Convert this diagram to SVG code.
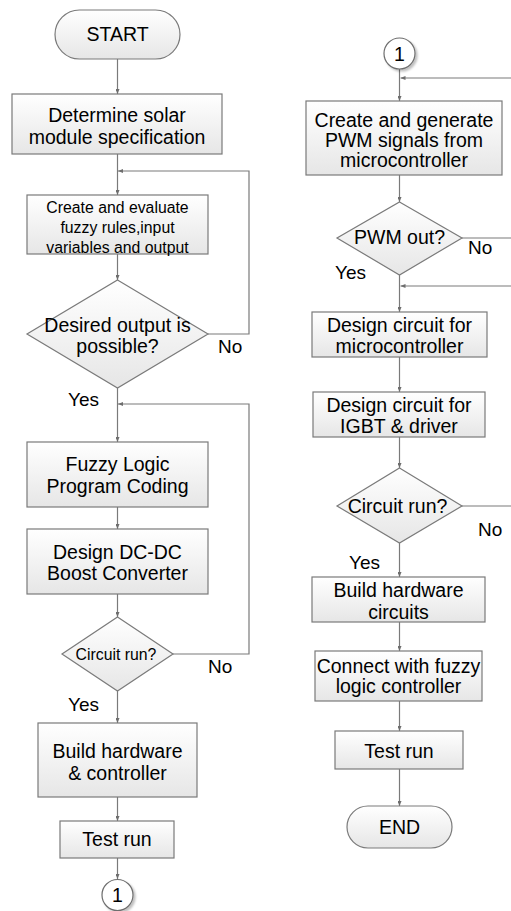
<svg xmlns="http://www.w3.org/2000/svg" width="511" height="911" viewBox="0 0 511 911">
<defs>
<linearGradient id="g" x1="0" y1="0" x2="0" y2="1">
<stop offset="0" stop-color="#ffffff"/>
<stop offset="1" stop-color="#e6e6e6"/>
</linearGradient>
<marker id="arr" markerWidth="5" markerHeight="4" refX="5" refY="2" orient="auto" markerUnits="userSpaceOnUse">
<path d="M0,0 L5,2 L0,4 Z" fill="#6e6e6e"/>
</marker>
<filter id="sh" x="-30%" y="-30%" width="170%" height="170%">
<feDropShadow dx="2" dy="2" stdDeviation="1.2" flood-color="#000" flood-opacity="0.25"/>
</filter>
</defs>
<style>
.n{fill:url(#g);stroke:#7a7a7a;stroke-width:1.2}
.c{fill:#fff;stroke:#6e6e6e;stroke-width:1.2;filter:url(#sh)}
.t{font-family:"Liberation Sans",Arial,sans-serif;font-size:19.5px;fill:#000;text-anchor:middle}
.s{font-size:15.8px}
.l{font-family:"Liberation Sans",Arial,sans-serif;font-size:19px;fill:#000}
.e{fill:none;stroke:#7a7a7a;stroke-width:1.2}
.a{marker-end:url(#arr)}
</style>
<rect width="511" height="911" fill="#fff"/>
<g id="connectors">
<path class="e a" d="M117.5,59 V94"/>
<path class="e a" d="M117.5,154 V195"/>
<path class="e a" d="M208,334 H249 V171 H118"/>
<path class="e a" d="M117.5,254 V280"/>
<path class="e a" d="M117.5,388 V442"/>
<path class="e a" d="M173,654 H249 V404 H118"/>
<path class="e a" d="M117.5,507 V529"/>
<path class="e a" d="M117.5,594 V617"/>
<path class="e a" d="M117.5,691 V723"/>
<path class="e a" d="M117.5,797 V821"/>
<path class="e a" d="M117.5,858 V879"/>
<path class="e a" d="M399.5,69 V101"/>
<path class="e a" d="M511,78 H400.5"/>
<path class="e a" d="M399.5,175 V202"/>
<path class="e" d="M462,238 H511"/>
<path class="e a" d="M399.5,275 V312"/>
<path class="e a" d="M511,286 H400.5"/>
<path class="e a" d="M399.5,357 V392"/>
<path class="e a" d="M399.5,437 V468"/>
<path class="e" d="M462,506 H511"/>
<path class="e a" d="M399.5,543 V577"/>
<path class="e a" d="M399.5,622 V651"/>
<path class="e a" d="M399.5,701 V731"/>
<path class="e a" d="M399.5,769 V806"/>
</g>
<g id="labels">
<text class="l" x="218" y="353">No</text>
<text class="l" x="68" y="406">Yes</text>
<text class="l" x="208" y="673">No</text>
<text class="l" x="68" y="711">Yes</text>
<text class="l" x="468" y="254">No</text>
<text class="l" x="335" y="279">Yes</text>
<text class="l" x="478" y="536">No</text>
<text class="l" x="349" y="569">Yes</text>
</g>
<g id="start">
<rect class="n" x="55" y="10" width="125" height="49" rx="24.5"/>
<text class="t" x="117.5" y="41">START</text>
</g>
<g id="solar-spec">
<rect class="n" x="12" y="94" width="210" height="60"/>
<text class="t" x="117" y="122">Determine solar</text>
<text class="t" x="117" y="144">module specification</text>
</g>
<g id="fuzzy-rules">
<rect class="n" x="27" y="195" width="181" height="59"/>
<text class="t s" x="117.5" y="212.5">Create and evaluate</text>
<text class="t s" x="117.5" y="232.5">fuzzy rules,input</text>
<text class="t s" x="117.5" y="252.5">variables and output</text>
</g>
<g id="desired-output">
<polygon class="n" points="117.5,280 208,334 117.5,388 27,334"/>
<text class="t" x="117.5" y="332">Desired output is</text>
<text class="t" x="117.5" y="353">possible?</text>
</g>
<g id="fuzzy-coding">
<rect class="n" x="27" y="442" width="181" height="65"/>
<text class="t" x="117.5" y="471">Fuzzy Logic</text>
<text class="t" x="117.5" y="493">Program Coding</text>
</g>
<g id="dcdc">
<rect class="n" x="27" y="529" width="181" height="65"/>
<text class="t" x="117.5" y="559">Design DC-DC</text>
<text class="t" x="117.5" y="580">Boost Converter</text>
</g>
<g id="circuit-run-1">
<polygon class="n" points="117.5,617 173,654 117.5,691 62,654"/>
<text class="t s" x="116" y="659.5">Circuit run?</text>
</g>
<g id="build-hw-ctrl">
<rect class="n" x="38" y="723" width="159" height="74"/>
<text class="t" x="117.5" y="758">Build hardware</text>
<text class="t" x="117.5" y="780">&amp; controller</text>
</g>
<g id="test-run-1">
<rect class="n" x="60" y="821" width="114" height="37"/>
<text class="t" x="117" y="846">Test run</text>
</g>
<g id="conn-1-out">
<circle class="c" cx="117.5" cy="895" r="15.5"/>
<text class="t" x="117.5" y="902">1</text>
</g>
<g id="conn-1-in">
<circle class="c" cx="399.5" cy="53.5" r="15.5"/>
<text class="t" x="399.5" y="60.5">1</text>
</g>
<g id="pwm-gen">
<rect class="n" x="306" y="101" width="196" height="74"/>
<text class="t" x="404" y="127">Create and generate</text>
<text class="t" x="404" y="147">PWM signals from</text>
<text class="t" x="404" y="167">microcontroller</text>
</g>
<g id="pwm-out">
<polygon class="n" points="399.5,202 462,238 399.5,275 337,238"/>
<text class="t" x="399.5" y="244">PWM out?</text>
</g>
<g id="design-mcu">
<rect class="n" x="312" y="312" width="175" height="45"/>
<text class="t" x="399.5" y="332">Design circuit for</text>
<text class="t" x="399.5" y="353">microcontroller</text>
</g>
<g id="design-igbt">
<rect class="n" x="313" y="392" width="172" height="45"/>
<text class="t" x="399" y="412">Design circuit for</text>
<text class="t" x="399" y="433">IGBT &amp; driver</text>
</g>
<g id="circuit-run-2">
<polygon class="n" points="399.5,468 462,506 399.5,543 337,506"/>
<text class="t" x="397.5" y="513">Circuit run?</text>
</g>
<g id="build-hw-circuits">
<rect class="n" x="312" y="577" width="173" height="45"/>
<text class="t" x="398.5" y="597">Build hardware</text>
<text class="t" x="398.5" y="619">circuits</text>
</g>
<g id="connect-flc">
<rect class="n" x="315" y="651" width="167" height="50"/>
<text class="t" x="398.5" y="673">Connect with fuzzy</text>
<text class="t" x="398.5" y="693">logic controller</text>
</g>
<g id="test-run-2">
<rect class="n" x="335" y="731" width="128" height="38"/>
<text class="t" x="399" y="757.5">Test run</text>
</g>
<g id="end">
<rect class="n" x="347" y="806" width="105" height="42" rx="21"/>
<text class="t" x="399.5" y="834">END</text>
</g>
</svg>
